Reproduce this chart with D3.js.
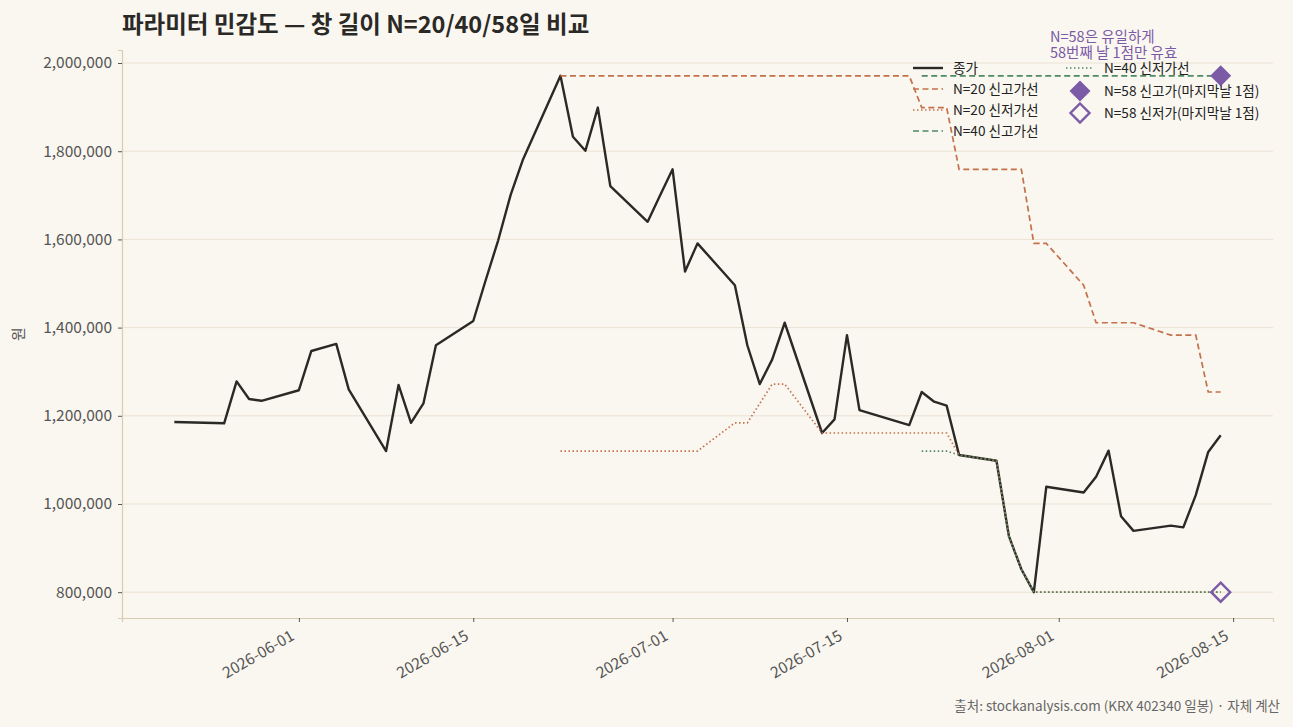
<!DOCTYPE html>
<html>
<head>
<meta charset="utf-8">
<script src="https://cdn.jsdelivr.net/npm/d3@7"></script>
<style>
  body { margin: 0; background: #faf7f0; }
  svg { display: block; font-family: "Noto Sans CJK KR", "Noto Sans", sans-serif; }
</style>
</head>
<body>
<div id="chart"></div>
<script>
// trading days (KRX 402340), close in won
var dates = [
  "2026-05-22","2026-05-26","2026-05-27","2026-05-28","2026-05-29",
  "2026-06-01","2026-06-02","2026-06-04","2026-06-05","2026-06-08",
  "2026-06-09","2026-06-10","2026-06-11","2026-06-12","2026-06-15",
  "2026-06-16","2026-06-17","2026-06-18","2026-06-19","2026-06-22",
  "2026-06-23","2026-06-24","2026-06-25","2026-06-26","2026-06-29",
  "2026-06-30","2026-07-01","2026-07-02","2026-07-03","2026-07-06",
  "2026-07-07","2026-07-08","2026-07-09","2026-07-10","2026-07-13",
  "2026-07-14","2026-07-15","2026-07-16","2026-07-20","2026-07-21",
  "2026-07-22","2026-07-23","2026-07-24","2026-07-27","2026-07-28",
  "2026-07-29","2026-07-30","2026-07-31","2026-08-03","2026-08-04",
  "2026-08-05","2026-08-06","2026-08-07","2026-08-10","2026-08-11",
  "2026-08-12","2026-08-13","2026-08-14"
];
var closes = [
  1186000,1183000,1278000,1238000,1234000,
  1258000,1347000,1363000,1260000,1120000,
  1270000,1184000,1228000,1360000,1415000,
  1508000,1598000,1701000,1782000,1971000,
  1833000,1801000,1899000,1721000,1640000,
  1700000,1759000,1527000,1591000,1496000,
  1360000,1272000,1328000,1411000,1161000,
  1192000,1383000,1213000,1179000,1254000,
  1232000,1223000,1111000,1098000,927000,
  852000,800000,1039000,1026000,1062000,
  1121000,972000,939000,951000,947000,
  1020000,1118000,1156000
];
var windows = [20, 40, 58];
var yTicks = [800000, 1000000, 1200000, 1400000, 1600000, 1800000, 2000000];
var xTicks = ["2026-06-01","2026-06-15","2026-07-01","2026-07-15","2026-08-01","2026-08-15"];

var W = 1293, H = 727;
var plotL = 122, plotR = 1273, plotT = 50, plotB = 618;
var C = { close: "#2b2926", n20: "#c4714a", n40: "#4e8a63", n58: "#7b5aa6",
          grid: "#ebe2d3", spine: "#d9ccb2", tick: "#555", text: "#222" };

var parse = d3.timeParse("%Y-%m-%d");
var data = dates.map(function(d, i) { return { date: parse(d), close: closes[i] }; });

// rolling high / low over the last N closes (only once N days are available)
function rolling(n, fn) {
  var out = [];
  data.forEach(function(d, i) {
    if (i >= n - 1) {
      var w = closes.slice(i - n + 1, i + 1);
      out.push({ date: d.date, v: fn(w) });
    }
  });
  return out;
}

var t0 = data[0].date, t1 = data[data.length - 1].date;
var padT = (t1 - t0) * 0.05;
var x = d3.scaleTime()
  .domain([new Date(+t0 - padT), new Date(+t1 + padT)])
  .range([plotL, plotR]);
var vmin = d3.min(closes), vmax = d3.max(closes), padV = (vmax - vmin) * 0.05;
var y = d3.scaleLinear().domain([vmin - padV, vmax + padV]).range([plotB, plotT]);

var svg = d3.select("#chart").append("svg").attr("width", W).attr("height", H);
svg.append("rect").attr("width", W).attr("height", H).attr("fill", "#faf7f0");

// grid
svg.append("g").selectAll("line").data(yTicks).join("line")
  .attr("x1", plotL).attr("x2", plotR)
  .attr("y1", function(d) { return y(d); }).attr("y2", function(d) { return y(d); })
  .attr("stroke", C.grid).attr("stroke-width", 1);

// y axis
var yAxis = svg.append("g").attr("transform", "translate(" + plotL + ",0)")
  .call(d3.axisLeft(y).tickValues(yTicks).tickFormat(d3.format(",")).tickSize(4).tickPadding(6));
yAxis.select(".domain").attr("stroke", C.spine).attr("stroke-width", 1.2);
yAxis.selectAll(".tick line").attr("stroke", C.tick);
yAxis.selectAll(".tick text").attr("fill", C.tick).style("font-size", "15.5px")
  .style("font-family", "'Noto Sans CJK KR', sans-serif");

// x axis
var xAxis = svg.append("g").attr("transform", "translate(0," + plotB + ")")
  .call(d3.axisBottom(x).tickValues(xTicks.map(parse)).tickFormat(d3.timeFormat("%Y-%m-%d")).tickSize(4));
xAxis.select(".domain").attr("stroke", C.spine).attr("stroke-width", 1.2);
xAxis.selectAll(".tick line").attr("stroke", C.tick);
xAxis.selectAll(".tick text")
  .attr("fill", C.tick).style("font-size", "15.5px")
  .style("font-family", "'Noto Sans CJK KR', sans-serif")
  .attr("text-anchor", "end").attr("y", 0).attr("dy", 0)
  .attr("transform", "translate(-4,21) rotate(-30)");

// y label
svg.append("text").attr("transform", "translate(24," + ((plotT + plotB) / 2) + ") rotate(-90)")
  .attr("text-anchor", "middle").attr("fill", C.tick).style("font-size", "15px").text("원");

// lines
var line = d3.line().x(function(d) { return x(d.date); }).y(function(d) { return y(d.v); });

svg.append("path")
  .datum(data.map(function(d) { return { date: d.date, v: d.close }; }))
  .attr("d", line).attr("fill", "none").attr("stroke", C.close)
  .attr("stroke-width", 2.4).attr("stroke-linejoin", "round");

var hiLo = [
  { n: 20, fn: d3.max, color: C.n20, dash: "6,3.5" },
  { n: 20, fn: d3.min, color: C.n20, dash: "1.5,2.5" },
  { n: 40, fn: d3.max, color: C.n40, dash: "6,3.5" },
  { n: 40, fn: d3.min, color: C.n40, dash: "1.5,2.5" }
];
hiLo.forEach(function(s) {
  svg.append("path").datum(rolling(s.n, s.fn))
    .attr("d", line).attr("fill", "none").attr("stroke", s.color)
    .attr("stroke-width", 1.7).attr("stroke-dasharray", s.dash);
});

// N=58: only the last day has a full window
function diamond(h) { return "M0," + (-h) + "L" + h + ",0L0," + h + "L" + (-h) + ",0Z"; }
var hi58 = rolling(windows[2], d3.max), lo58 = rolling(windows[2], d3.min);
svg.append("g").selectAll("path").data(hi58).join("path")
  .attr("d", diamond(10.5))
  .attr("transform", function(d) { return "translate(" + x(d.date) + "," + y(d.v) + ")"; })
  .attr("fill", C.n58);
svg.append("g").selectAll("path").data(lo58).join("path")
  .attr("d", diamond(9.5))
  .attr("transform", function(d) { return "translate(" + x(d.date) + "," + y(d.v) + ")"; })
  .attr("fill", "none").attr("stroke", C.n58).attr("stroke-width", 2.4);

// title
svg.append("text").attr("x", plotL).attr("y", 33)
  .attr("fill", "#2b2926").style("font-size", "23.5px").style("font-weight", "bold")
  .text("파라미터 민감도 — 창 길이 N=20/40/58일 비교");

// annotation
var ann = svg.append("text").attr("x", 1050).attr("fill", C.n58).style("font-size", "14.5px");
ann.append("tspan").attr("x", 1050).attr("y", 42).text("N=58은 유일하게");
ann.append("tspan").attr("x", 1050).attr("y", 58).text("58번째 날 1점만 유효");

// legend
var legend = svg.append("g").style("font-size", "13.6px");
var col1 = [
  { label: "종가", color: C.close, dash: null, w: 2.4 },
  { label: "N=20 신고가선", color: C.n20, dash: "6,3.5", w: 1.7 },
  { label: "N=20 신저가선", color: C.n20, dash: "1.5,2.5", w: 1.7 },
  { label: "N=40 신고가선", color: C.n40, dash: "6,3.5", w: 1.7 }
];
col1.forEach(function(d, i) {
  var yy = 68 + i * 21;
  legend.append("line").attr("x1", 913).attr("x2", 943).attr("y1", yy).attr("y2", yy)
    .attr("stroke", d.color).attr("stroke-width", d.w).attr("stroke-dasharray", d.dash);
  legend.append("text").attr("x", 953).attr("y", yy + 5).attr("fill", C.text).text(d.label);
});
legend.append("line").attr("x1", 1066).attr("x2", 1093).attr("y1", 68).attr("y2", 68)
  .attr("stroke", C.n40).attr("stroke-width", 1.7).attr("stroke-dasharray", "1.5,2.5");
legend.append("text").attr("x", 1104).attr("y", 73).attr("fill", C.text).text("N=40 신저가선");
legend.append("path").attr("d", diamond(10.5)).attr("transform", "translate(1080,91)").attr("fill", C.n58);
legend.append("text").attr("x", 1104).attr("y", 96).attr("fill", C.text).text("N=58 신고가(마지막날 1점)");
legend.append("path").attr("d", diamond(9.5)).attr("transform", "translate(1080,113)")
  .attr("fill", "none").attr("stroke", C.n58).attr("stroke-width", 2.4);
legend.append("text").attr("x", 1104).attr("y", 118).attr("fill", C.text).text("N=58 신저가(마지막날 1점)");

// source
svg.append("text").attr("x", 1280).attr("y", 711).attr("text-anchor", "end")
  .attr("fill", "#666").style("font-size", "13.5px")
  .text("출처: stockanalysis.com (KRX 402340 일봉) · 자체 계산");
</script>
</body>
</html>
